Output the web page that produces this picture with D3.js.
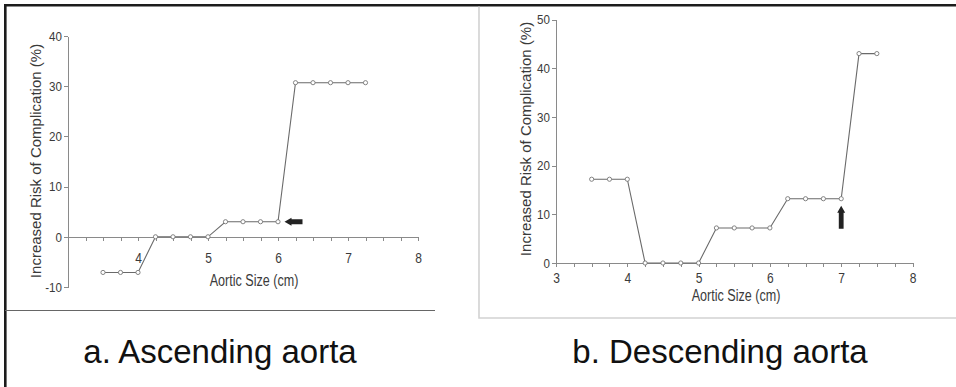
<!DOCTYPE html>
<meta charset="utf-8">
<style>
body { margin: 0; background: #fff; }
svg { display: block; font-family: "Liberation Sans", Arial, sans-serif; }
.axis path, .axis line { stroke: #8a8a8a; stroke-width: 1; shape-rendering: crispEdges; }
.axis text { fill: #3a3a3a; font-size: 14px; }
.risk-line { fill: none; stroke: #6a6a6a; stroke-width: 1.1; }
.dot { fill: #fff; stroke: #777; stroke-width: 0.9; }
.axis-label { fill: #3a3a3a; }
.caption { font-size: 33px; fill: #111; }
</style>
<body>
<script src="https://cdnjs.cloudflare.com/ajax/libs/d3/7.8.5/d3.min.js"></script>
<script>
// aortic size (cm) for each point
var ascSize = [3.5, 3.75, 4, 4.25, 4.5, 4.75, 5, 5.25, 5.5, 5.75, 6, 6.25, 6.5, 6.75, 7, 7.25];
var ascRisk = [-7.1, -7.1, -7.1, 0, 0, 0, 0, 3, 3, 3, 3, 30.7, 30.7, 30.7, 30.7, 30.7];
var descSize = [3.5, 3.75, 4, 4.25, 4.5, 4.75, 5, 5.25, 5.5, 5.75, 6, 6.25, 6.5, 6.75, 7, 7.25, 7.5];
var descRisk = [17.2, 17.2, 17.2, 0, 0, 0, 0, 7.2, 7.2, 7.2, 7.2, 13.2, 13.2, 13.2, 13.2, 43, 43];

var ascYTicks = [-10, 0, 10, 20, 30, 40];
var descYTicks = [0, 10, 20, 30, 40, 50];
var ascXLabels = [4, 5, 6, 7, 8];
var descXLabels = [3, 4, 5, 6, 7, 8];
var xMinor = d3.range(3, 8.001, 0.25);

var captions = ["a. Ascending aorta", "b. Descending aorta"];

var svg = d3.select("body").append("svg").attr("width", 956).attr("height", 387);

// frames
svg.append("path").attr("d", "M5.3,387V5.3H956")
  .attr("fill", "none").attr("stroke", "#1c1c1c").attr("stroke-width", 2.6);
svg.append("line").attr("x1", 5).attr("x2", 435).attr("y1", 310.5).attr("y2", 310.5)
  .attr("stroke", "#666").attr("stroke-width", 1);
svg.append("path").attr("d", "M479,6.5V318H956")
  .attr("fill", "none").attr("stroke", "#d2d2d2").attr("stroke-width", 1.6);

var panels = [
  { size: ascSize, risk: ascRisk, yTicks: ascYTicks, xLabels: ascXLabels,
    x: d3.scaleLinear().domain([3, 8]).range([68, 418]),
    y: d3.scaleLinear().domain([-10, 40]).range([287, 36]),
    xPad: 12, xLab: [254, 286], yLab: [41, 161], cap: [220, 363] },
  { size: descSize, risk: descRisk, yTicks: descYTicks, xLabels: descXLabels,
    x: d3.scaleLinear().domain([3, 8]).range([556, 912.5]),
    y: d3.scaleLinear().domain([0, 50]).range([263, 19.5]),
    xPad: 6, xLab: [736, 301], yLab: [531, 139], cap: [720, 363] }
];

panels.forEach(function(p, i) {
  var g = svg.append("g");

  g.append("g").attr("class", "axis")
    .attr("transform", "translate(" + p.x.range()[0] + ",0)")
    .call(d3.axisLeft(p.y).tickValues(p.yTicks).tickSizeInner(4).tickSizeOuter(0)
      .tickPadding(3).tickFormat(function(d) { return String(d); }))
    .selectAll("text").attr("transform", "scale(0.86,1)").style("font-size", "13.5px");

  g.append("g").attr("class", "axis")
    .attr("transform", "translate(0," + p.y(0) + ")")
    .call(d3.axisBottom(p.x).tickValues(xMinor).tickSizeInner(4).tickSizeOuter(0)
      .tickPadding(p.xPad)
      .tickFormat(function(d) { return p.xLabels.indexOf(d) >= 0 ? String(d) : ""; }))
    .selectAll("text").attr("transform", "scale(0.86,1)");

  var pts = p.size.map(function(s, j) { return [s, p.risk[j]]; });

  g.append("path").attr("class", "risk-line")
    .attr("d", d3.line().x(function(d) { return p.x(d[0]); }).y(function(d) { return p.y(d[1]); })(pts));

  g.selectAll(".dot").data(pts).enter().append("circle")
    .attr("class", "dot")
    .attr("cx", function(d) { return p.x(d[0]); })
    .attr("cy", function(d) { return p.y(d[1]); })
    .attr("r", 2.1);

  g.append("text").attr("class", "axis-label")
    .attr("transform", "translate(" + p.xLab[0] + "," + p.xLab[1] + ") scale(0.74,1)")
    .attr("text-anchor", "middle").style("font-size", "17px")
    .text("Aortic Size (cm)");

  g.append("text").attr("class", "axis-label")
    .attr("transform", "translate(" + p.yLab[0] + "," + p.yLab[1] + ") rotate(-90)")
    .attr("text-anchor", "middle").style("font-size", "15px")
    .text("Increased Risk of Complication (%)");

  svg.append("text").attr("class", "caption")
    .attr("x", p.cap[0]).attr("y", p.cap[1])
    .attr("text-anchor", "middle")
    .text(captions[i]);
});

// arrows pointing at the threshold points
var pa = panels[0], pb = panels[1];
var ax = pa.x(6) + 6.5, ay = pa.y(3);
svg.append("path").attr("fill", "#222")
  .attr("d", "M" + ax + "," + ay + "l7,-4v1.6h11v4.8h-11v1.6z");
var bx = pb.x(7), by = pb.y(13.2) + 7;
svg.append("path").attr("fill", "#222")
  .attr("d", "M" + bx + "," + by + "l4,7h-1.6v16h-4.8v-16h-1.6z");
</script>
</body>
